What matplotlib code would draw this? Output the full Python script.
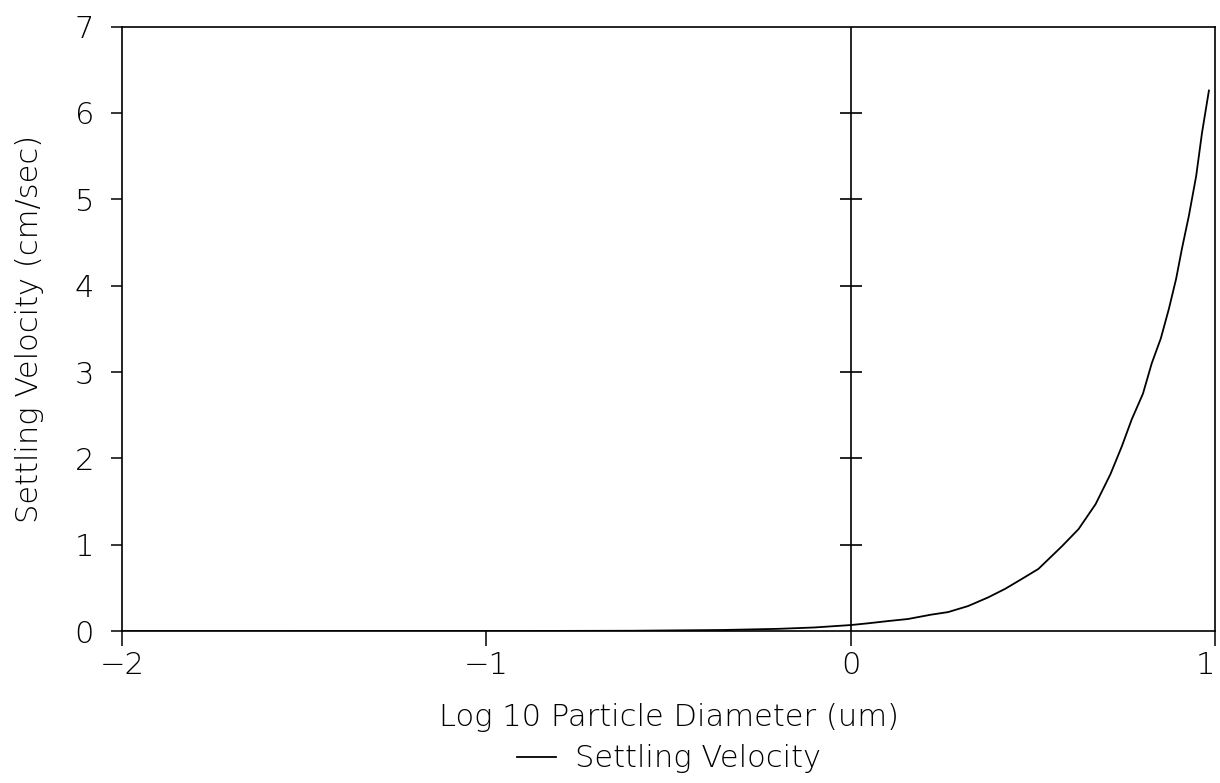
import numpy as np
import matplotlib.pyplot as plt

# log10 particle diameter (um) vs settling velocity (cm/sec)
log_diam = [-2.0, -1.0, -0.6, -0.35, -0.2, -0.1, 0.0, 0.047, 0.102, 0.157,
            0.22, 0.267, 0.322, 0.377, 0.424, 0.468, 0.515, 0.579, 0.625,
            0.672, 0.713, 0.744, 0.771, 0.802, 0.826, 0.851, 0.873, 0.893,
            0.909, 0.928, 0.948, 0.964, 0.983]
velocity = [0.0, 0.0007, 0.004, 0.013, 0.026, 0.042, 0.07, 0.09, 0.116, 0.14,
            0.19, 0.22, 0.29, 0.39, 0.49, 0.60, 0.72, 0.98, 1.18,
            1.47, 1.82, 2.14, 2.45, 2.75, 3.10, 3.39, 3.73, 4.08,
            4.43, 4.81, 5.27, 5.77, 6.26]

x_ticks = [-2, -1, 0, 1]
x_tick_labels = ["\u22122", "\u22121", "0", "1"]
y_ticks = [0, 1, 2, 3, 4, 5, 6, 7]
mid_ticks = [1, 2, 3, 4, 5, 6]

plt.rcParams['font.family'] = ['DejaVu Sans']
plt.rcParams['font.weight'] = 'light'
plt.rcParams['axes.labelweight'] = 'light'

fig = plt.figure(figsize=(12.2, 7.83), dpi=100)
ax = fig.add_axes([0.1, 0.194, 0.896, 0.772])

ax.plot(log_diam, velocity, color="black", linewidth=1.3, label="Settling Velocity")

# linea vertical en x=0 con marcas que la cruzan
ax.axvline(0, color="black", linewidth=1.2)
ax.plot(np.zeros(len(mid_ticks)), mid_ticks, linestyle="none", marker="_",
        markersize=16, markeredgewidth=1.2, color="black")

ax.set_xlim(-2, 1)
ax.set_ylim(0, 7)
ax.set_xticks(x_ticks)
ax.set_yticks(y_ticks)
ax.set_xticklabels(x_tick_labels)
ax.tick_params(axis="both", labelsize=22, width=1.1, color="black")
ax.tick_params(axis="x", length=11, pad=3)
ax.tick_params(axis="y", length=8, pad=12)
# el "1" queda pegado al borde derecho
ax.get_xticklabels()[-1].set_horizontalalignment("right")

for s in ax.spines.values():
    s.set_linewidth(1.2)

ax.set_xlabel("Log 10 Particle Diameter (um)", fontsize=22, labelpad=17)
ax.set_ylabel("Settling Velocity (cm/sec)", fontsize=22, labelpad=22)

fig.legend(loc="center", bbox_to_anchor=(0.548, 0.031), frameon=False,
           fontsize=22, handlelength=1.3, handletextpad=0.6)

fig.savefig("out.png", dpi=100, facecolor="white")
plt.close(fig)
